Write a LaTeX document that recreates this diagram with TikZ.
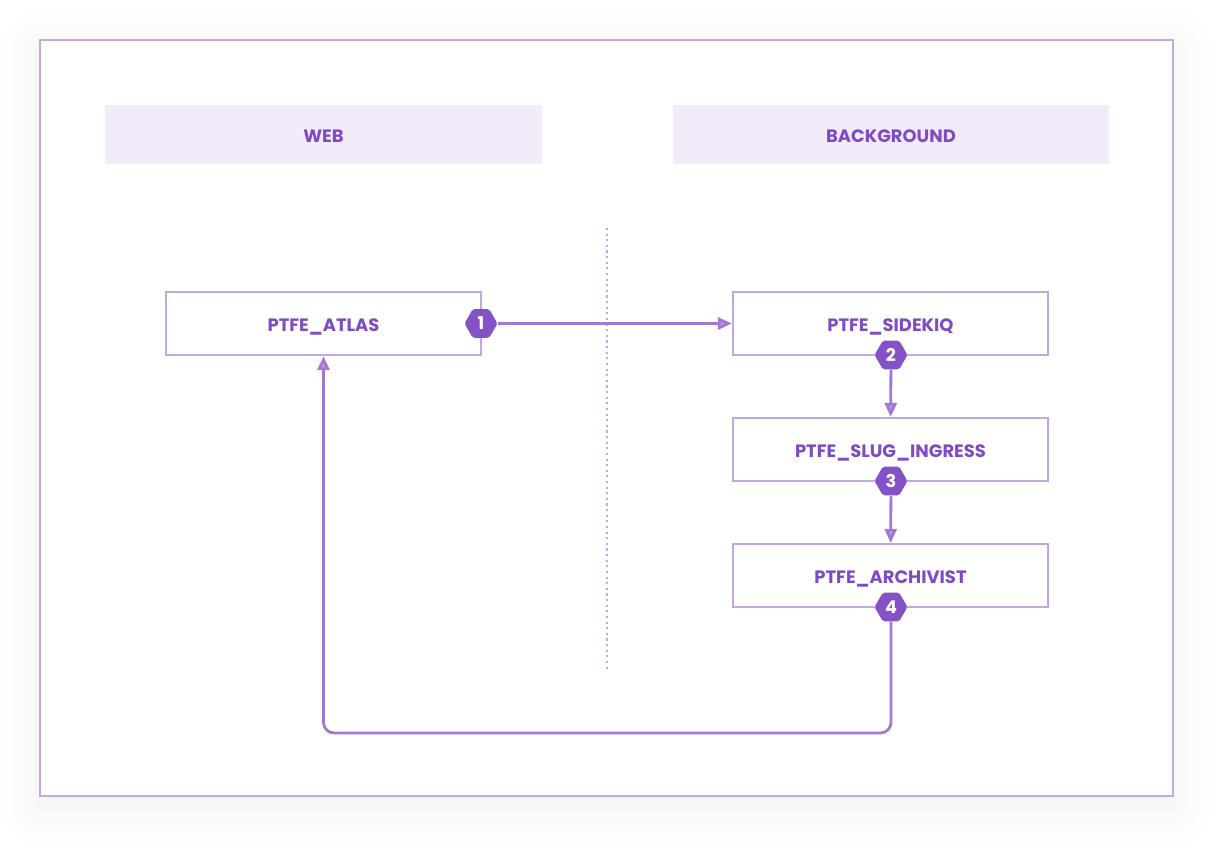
\documentclass[tikz,border=0pt]{standalone}
\usepackage{fontspec}
\setmainfont{Poppins}
\usetikzlibrary{shapes.geometric}
\usetikzlibrary{arrows.meta}
\usetikzlibrary{positioning}
\usetikzlibrary{shadows.blur}
\definecolor{lilas}{HTML}{C4A6E2}
\definecolor{mauve}{HTML}{A477D3}
\definecolor{violet}{HTML}{8551C6}
\definecolor{encre}{HTML}{7E4BC2}
\definecolor{pale}{HTML}{F2EBF9}
\tikzstyle{bandeau}=[
        rectangle,
        fill=pale,
        minimum width=8.74cm,
        minimum height=1.18cm,
        text=encre,
        text height=9.5pt,
        text depth=0pt,
        font=\bfseries\fontsize{10.2}{12}\selectfont
]
\tikzstyle{service}=[rectangle,draw=lilas,line width=1.3pt,fill=white,
minimum width=6.3cm,minimum height=1.26cm,text=encre,text height=9.5pt,text depth=0pt,
font=\bfseries\fontsize{10.2}{12}\selectfont]
\tikzstyle{jeton}=[regular polygon,regular polygon sides=6,fill=violet,
minimum size=0.66cm,inner sep=0pt,rounded corners=1pt,text=white,
font=\bfseries\fontsize{10}{12}\selectfont]
\tikzstyle{suite}=[-{Triangle[length=0.28cm,width=0.24cm,fill=mauve!75]},draw=mauve,line width=1.6pt,rounded corners=6pt]

\begin{document}
\begin{tikzpicture}[x=0.02cm,y=-0.02cm]
\useasboundingbox (0,0) rectangle (1214,864);
\draw[lilas,line width=1.1pt,fill=white,
blur shadow={shadow xshift=0pt,shadow yshift=-0.2cm,shadow opacity=6,shadow blur radius=0.8cm}]
(40,40) rectangle (1173,796);
\node[bandeau] (w) at (323.5,134.5) {WEB};
\node[bandeau] (k) at (891,134.5) {BACKGROUND};
\draw[lilas,line width=1.2pt,dotted] (607,228) -- (607,672);
\node[service] (a) at (323.5,323.5) {PTFE\_ATLAS};
\node[service] (b) at (890.5,323.5) {PTFE\_SIDEKIQ};
\node[service] (c) at (890.5,449.5) {PTFE\_SLUG\_INGRESS};
\node[service] (d) at (890.5,575.5) {PTFE\_ARCHIVIST};
\node[jeton] (j1) at (481,323.5) {1};
\node[jeton] (j2) at (891,355) {2};
\node[jeton] (j3) at (891,481) {3};
\node[jeton] (j4) at (891,607) {4};
\coordinate (coin) at (891,733);
%Placementdesflèches
\draw[suite] (j1) -- (b);
\draw[suite] (j2) -- (c);
\draw[suite] (j3) -- (d);
\draw[suite] (j4) -- (coin) -| (a);
\end{tikzpicture}
\end{document}
